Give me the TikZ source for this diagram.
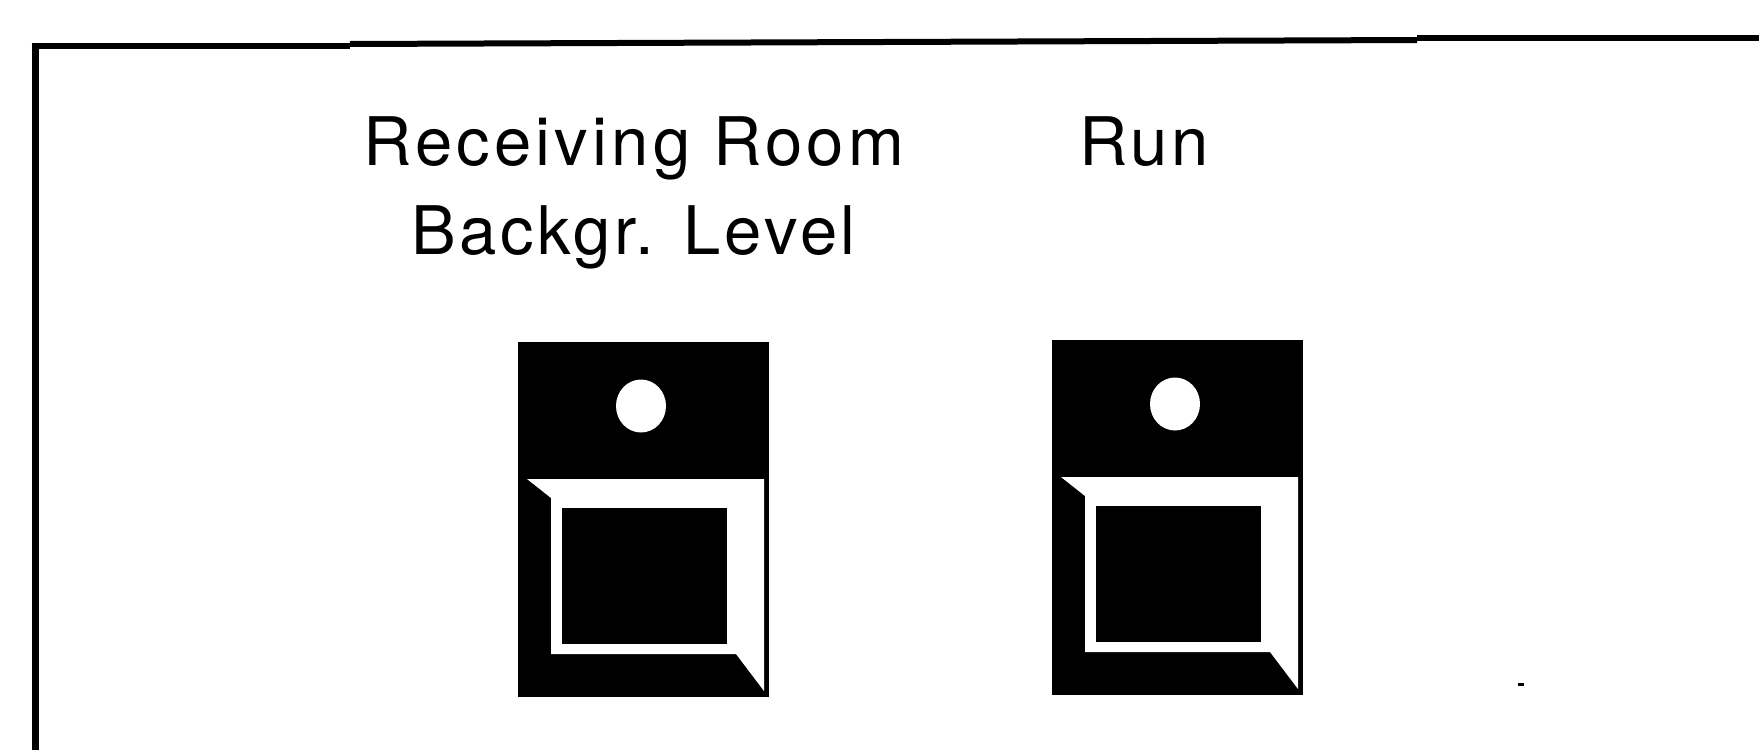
\documentclass[tikz,border=0pt]{standalone}
\usepackage{fontspec}
\setmainfont{TeX Gyre Heros}[LetterSpace=5.5]
\newfontfamily\widefont{TeX Gyre Heros}[LetterSpace=6.3]
\newfontfamily\tightfont{TeX Gyre Heros}[LetterSpace=5.3]
\tikzset{
  frameline/.style={line width=6pt, line cap=butt},
  lbl/.style={anchor=base west, inner sep=0pt, font=\fontsize{67}{67}\selectfont},
  pics/button/.style={code={
    \fill[black] (0,0) rectangle (251,355);
    \fill[white] (123,64) ellipse [x radius=25, y radius=26.5];
    \fill[white] (9,137) -- (246,137) -- (246,349) -- (218,312) -- (33,312) -- (33,156) -- cycle;
    \fill[black] (44,166) rectangle (209,302);
  }}
}
\begin{document}
\begin{tikzpicture}[x=1pt, y=-1pt]
\useasboundingbox (0,0) rectangle (1759,750);
% panel border
\coordinate (tl) at (35,46);
\coordinate (s1) at (350,46);
\coordinate (s1b) at (350,44);
\coordinate (s2) at (1417,40);
\coordinate (s2b) at (1417,38);
\coordinate (tr) at (1759,38);
\coordinate (bl) at (35,750);
\draw[frameline, line width=7pt] (bl) -- ([yshift=-3pt]tl);
\draw[frameline] ([xshift=-3.5pt]tl) -- (s1);
\draw[frameline] (s1b) -- (s2);
\draw[frameline] (s2b) -- (tr);
% buttons
\pic (bgbtn) at (518,342) {button};
\pic (runbtn) at (1052,340) {button};
% labels
\node[lbl, font=\widefont\fontsize{67}{67}\selectfont] (recv) at (363,165) {Receiving Room};
\node[lbl, font=\tightfont\fontsize{67}{67}\selectfont] (backgr) at (411,254) {Backgr. Level};
\node[lbl] (run) at (1079,165) {Run};
% small dash
\fill[black] (1518,682.5) rectangle (1524,685.5);
\end{tikzpicture}
\end{document}
